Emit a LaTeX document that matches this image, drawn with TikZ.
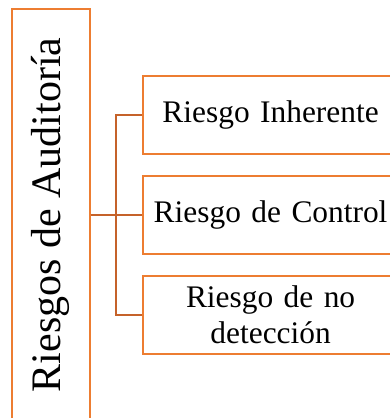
\documentclass[tikz,border=0pt]{standalone}
\usepackage{fontspec}
\setmainfont{Liberation Serif}
\usepackage{xcolor}
\definecolor{boxorange}{HTML}{ED7D31}
\definecolor{linkorange}{HTML}{C5622A}
\usepackage{tikz}
\usetikzlibrary{positioning, calc}

\begin{document}
\begin{tikzpicture}[
  node distance=10pt and 25.5pt,
  riskmain/.style={rectangle, draw=boxorange, fill=white, line width=1pt,
    rotate=90, minimum width=206pt, minimum height=39pt, inner sep=0pt,
    font=\fontsize{21}{25}\selectfont},
  riskbox/.style={rectangle, draw=boxorange, fill=white, line width=1pt,
    text width=124pt, align=center, minimum height=39pt, inner sep=2pt,
    font=\fontsize{15.7}{18}\selectfont},
  link/.style={line width=1pt, draw=linkorange}
]
\useasboundingbox (0,0) rectangle (195pt,209pt);
\clip (0,0) rectangle (195pt,209pt);
\node[riskmain] (audit) at (25.3pt,101.5pt) {Riesgos de Auditoría};
\node[riskbox, right=25.5pt of audit.south, anchor=west] (ctrl) {Riesgo de Control};
\node[riskbox, above=of ctrl] (inh) {Riesgo Inherente};
\node[riskbox, below=of ctrl] (nodet) {Riesgo de no\\detección};
\coordinate (bus) at ($(audit.south)!0.5!(ctrl.west)$);
\draw[link] (audit.south) -- (ctrl.west);
\draw[link] (inh.west) -| (bus) |- (nodet.west);
\end{tikzpicture}
\end{document}
